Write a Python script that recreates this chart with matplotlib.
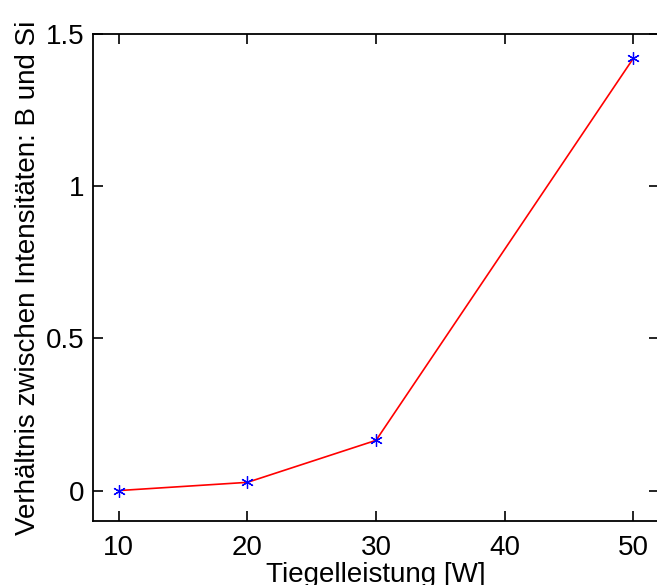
import numpy as np
import matplotlib.pyplot as plt

plt.rcParams['font.family'] = ['Liberation Sans', 'DejaVu Sans']

# Messwerte
leistung = [10, 20, 30, 50]
verhaeltnis = [0.0, 0.027, 0.165, 1.42]

xticks = [10, 20, 30, 40, 50]
yticks = [0, 0.5, 1, 1.5]

fig = plt.figure(figsize=(6.57, 5.85), dpi=100)
ax = fig.add_axes([0.1416, 0.1094, 0.8615, 0.8325])

ax.plot(leistung, verhaeltnis, color='red', lw=1.2, zorder=2)
ax.plot(leistung, verhaeltnis, ls='none', marker=(6, 2, 0), ms=9,
        mec='blue', mew=0.9, zorder=3)

ax.set_xlim(8, 52)
ax.set_ylim(-0.1, 1.5)
ax.set_xticks(xticks)
ax.set_yticks(yticks)
ax.set_yticklabels(['0', '0.5', '1', '1.5'])
ax.tick_params(direction='in', length=7, width=1.2, labelsize=20,
               top=True, right=True)
ax.tick_params(axis='x', pad=10)
ax.tick_params(axis='y', pad=6)
for s in ax.spines.values():
    s.set_linewidth(1.3)

ax.set_xlabel('Tiegelleistung [W]', fontsize=20, labelpad=1)
ax.set_ylabel('Verhältnis zwischen Intensitäten: B und Si', fontsize=20, labelpad=4)

fig.savefig('out.png', dpi=100)
